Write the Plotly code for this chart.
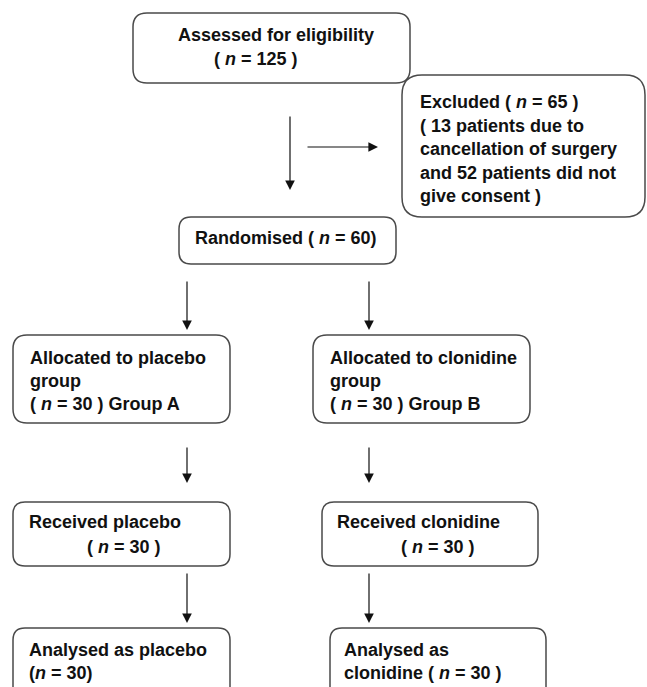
import plotly.graph_objects as go

# ---- data (flow counts and texts) ----
n_assessed = 125
n_excluded = 65
n_cancelled = 13
n_no_consent = 52
n_randomised = 60
n_placebo = 30
n_clonidine = 30
n_recv_placebo = 30
n_recv_clonidine = 30
n_anal_placebo = 30
n_anal_clonidine = 30

def nn(v, sp=True):
    return ("( <i>n</i> = %d )" % v) if sp else ("(<i>n</i> = %d)" % v)

box_texts = [
    ["Assessed for eligibility", nn(n_assessed)],
    ["Excluded ( <i>n</i> = %d )" % n_excluded,
     "( %d patients due to" % n_cancelled,
     "cancellation of surgery",
     "and %d patients did not" % n_no_consent,
     "give consent )"],
    ["Randomised ( <i>n</i> = %d)" % n_randomised],
    ["Allocated to placebo", "group", nn(n_placebo) + " Group A"],
    ["Allocated to clonidine", "group", nn(n_clonidine) + " Group B"],
    ["Received placebo", nn(n_recv_placebo)],
    ["Received clonidine", nn(n_recv_clonidine)],
    ["Analysed as placebo", nn(n_anal_placebo, False)],
    ["Analysed as", "clonidine ( <i>n</i> = %d )" % n_anal_clonidine],
]

# ---- layout geometry (pixels) ----
W, H = 647, 687
boxes = [
    (133, 13, 410, 83),
    (402, 75, 645, 217),
    (179, 217, 396, 264),
    (13, 335, 230, 423),
    (313, 335, 530, 423),
    (13, 502, 230, 566),
    (322, 502, 538, 566),
    (13, 628, 230, 705),
    (330, 628, 546, 705),
]
# per-line text anchor (left x, centre y)
line_pos = [
    [(176, 35), (212, 59)],
    [(418, 102), (418, 126), (418, 149), (418, 173), (418, 196)],
    [(193, 238)],
    [(28, 358), (28, 381), (28, 404)],
    [(328, 358), (328, 381), (328, 404)],
    [(27, 522), (85, 547)],
    [(335, 522), (399, 547)],
    [(27, 650), (27, 673)],
    [(342, 650), (342, 673)],
]
radii = [14, 20, 12, 14, 14, 12, 12, 12, 12]
arrows = [  # (tail_x, tail_y, tip_x, tip_y)
    (290, 115, 290, 190),
    (306, 147, 378, 147),
    (187, 280, 187, 330),
    (369, 280, 369, 330),
    (187, 446, 187, 483),
    (369, 446, 369, 483),
    (187, 572, 187, 623),
    (369, 572, 369, 623),
]

def rrect(x0, y0, x1, y1, r):
    return (f"M {x0+r},{y0} L {x1-r},{y0} Q {x1},{y0} {x1},{y0+r} "
            f"L {x1},{y1-r} Q {x1},{y1} {x1-r},{y1} L {x0+r},{y1} "
            f"Q {x0},{y1} {x0},{y1-r} L {x0},{y0+r} Q {x0},{y0} {x0+r},{y0} Z")

fig = go.Figure()
fig.add_trace(go.Scatter(x=[0, W], y=[0, H], mode="markers",
                         marker=dict(opacity=0), hoverinfo="skip", showlegend=False))

shapes = []
for (x0, y0, x1, y1), r in zip(boxes, radii):
    shapes.append(dict(type="path", path=rrect(x0, y0, x1, y1, r), xref="x", yref="y",
                       line=dict(color="#4a4a4a", width=1.5), fillcolor="rgba(0,0,0,0)"))

annotations = []
for lines, poss in zip(box_texts, line_pos):
    for t, (x, y) in zip(lines, poss):
        annotations.append(dict(x=x, y=y, xref="x", yref="y", text="<b>" + t + "</b>",
                                showarrow=False, xanchor="left", yanchor="middle",
                                font=dict(family="Liberation Sans, Arial, sans-serif",
                                          size=18, color="#111111")))
for (ax, ay, x, y) in arrows:
    annotations.append(dict(x=x, y=y, ax=ax, ay=ay, xref="x", yref="y", axref="x", ayref="y",
                            text="", showarrow=True, arrowhead=2, arrowsize=1.6,
                            arrowwidth=1.2, arrowcolor="#111111", standoff=0, startstandoff=0))

fig.update_layout(
    width=W, height=H, margin=dict(l=0, r=0, t=0, b=0),
    paper_bgcolor="white", plot_bgcolor="white",
    xaxis=dict(range=[0, W], visible=False, fixedrange=True),
    yaxis=dict(range=[H, 0], visible=False, fixedrange=True),
    shapes=shapes, annotations=annotations, showlegend=False,
)
fig.write_html("out.html", config={"displayModeBar": False},
               post_script="document.body.style.margin='0';document.body.style.overflow='hidden';")
